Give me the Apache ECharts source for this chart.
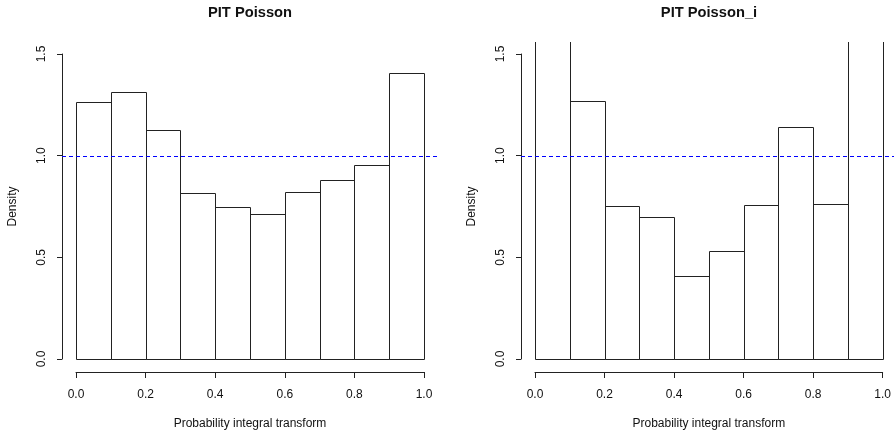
<!DOCTYPE html>
<html>
<head>
<meta charset="utf-8">
<script src="https://cdn.jsdelivr.net/npm/echarts@6/dist/echarts.min.js"></script>
<style>
html,body{margin:0;padding:0;background:#fff;}
#chart{width:894px;height:438px;}
</style>
</head>
<body>
<div id="chart"></div>
<script>
// ---- data ----
const breaks = [0, 0.1, 0.2, 0.3, 0.4, 0.5, 0.6, 0.7, 0.8, 0.9, 1.0];
const densityPoisson  = [1.265, 1.311, 1.128, 0.817, 0.747, 0.715, 0.820, 0.881, 0.954, 1.405];
const densityPoissonI = [1.85, 1.268, 0.752, 0.696, 0.410, 0.530, 0.757, 1.139, 0.762, 1.84];
const refDensity = 1.0;
const titles = ['PIT Poisson', 'PIT Poisson_i'];
const xName = 'Probability integral transform';
const yName = 'Density';
const xTickStep = 0.2;
const yTickStep = 0.5;
const yAxisMax = 1.5;
// R plot region extends 4% beyond the data range
const xPlotLimit = [-0.04, 1.04];
const yPlotLimit = [-0.06, 1.56];

const FONT = '"Liberation Sans", Arial, sans-serif';
const LINE = '#222';

function histData(vals) {
  return vals.map((v, i) => [breaks[i], breaks[i + 1], v]);
}

function crisp(v) { return Math.round(v) + 0.5; }

function renderBar(params, api) {
  const x0 = api.value(0), x1 = api.value(1), v = api.value(2);
  const pb = api.coord([x0, 0]);
  const pt = api.coord([x1, v]);
  const topLim = api.coord([x0, yPlotLimit[1]])[1];
  const L = crisp(pb[0]), R = crisp(pt[0]), B = crisp(pb[1]);
  let points;
  if (pt[1] >= topLim) {
    const T = crisp(pt[1]);
    points = [[L, B], [L, T], [R, T], [R, B], [L, B]];
  } else {
    const T = Math.round(topLim);
    points = [[L, T], [L, B], [R, B], [R, T]];
  }
  return {
    type: 'polyline',
    shape: { points: points },
    style: { stroke: LINE, fill: null, lineWidth: 1 }
  };
}

function renderRef(params, api) {
  const v = api.value(0);
  const a = api.coord([xPlotLimit[0], v]);
  const b = api.coord([xPlotLimit[1], v]);
  const y = crisp(a[1]);
  return {
    type: 'line',
    shape: { x1: Math.round(a[0]), y1: y, x2: Math.round(b[0]), y2: y },
    style: { stroke: '#0000ff', lineWidth: 1, lineDash: [4, 3] },
    z2: 10
  };
}

const grids = [
  { left: 76, top: 54, width: 348, height: 305 },
  { left: 535, top: 54, width: 348, height: 305 }
];

function xAxisFor(i) {
  return {
    type: 'value', gridIndex: i, min: 0, max: 1, interval: xTickStep,
    offset: 13,
    axisLine: { show: true, onZero: false, lineStyle: { color: LINE, width: 1 } },
    axisTick: { show: true, length: 6, lineStyle: { color: LINE, width: 1 } },
    axisLabel: { fontSize: 12, color: '#111', fontFamily: FONT, margin: 17,
      formatter: v => v.toFixed(1), showMinLabel: true, showMaxLabel: true },
    splitLine: { show: false },
    name: xName, nameLocation: 'middle', nameGap: 46,
    nameTextStyle: { fontSize: 12, color: '#111', fontFamily: FONT }
  };
}

function yAxisFor(i) {
  return {
    type: 'value', gridIndex: i, min: 0, max: yAxisMax, interval: yTickStep,
    offset: 14,
    axisLine: { show: true, onZero: false, lineStyle: { color: LINE, width: 1 } },
    axisTick: { show: true, length: 5, lineStyle: { color: LINE, width: 1 } },
    axisLabel: { fontSize: 12, color: '#111', fontFamily: FONT, margin: 14, rotate: 90,
      formatter: v => v.toFixed(1), showMinLabel: true, showMaxLabel: true },
    splitLine: { show: false },
    name: yName, nameLocation: 'middle', nameGap: 43,
    nameTextStyle: { fontSize: 12, color: '#111', fontFamily: FONT }
  };
}

const allData = [densityPoisson, densityPoissonI];
const series = [];
allData.forEach((vals, i) => {
  series.push({
    type: 'custom', xAxisIndex: i, yAxisIndex: i,
    renderItem: renderBar, data: histData(vals),
    encode: { x: [0, 1], y: 2 }, clip: false, silent: true, z: 2
  });
  series.push({
    type: 'custom', xAxisIndex: i, yAxisIndex: i,
    renderItem: renderRef, data: [[refDensity]],
    encode: { y: 0 }, clip: false, silent: true, z: 3
  });
});

const chart = echarts.init(document.getElementById('chart'), null, { renderer: 'canvas' });
chart.setOption({
  animation: false,
  backgroundColor: '#fff',
  title: titles.map((t, i) => ({
    text: t,
    left: [250, 709][i],
    top: 5,
    padding: 0,
    textAlign: 'center',
    textStyle: { fontSize: 14.7, fontWeight: 'bold', color: '#111', fontFamily: FONT }
  })),
  grid: grids,
  xAxis: [xAxisFor(0), xAxisFor(1)],
  yAxis: [yAxisFor(0), yAxisFor(1)],
  series: series
});
</script>
</body>
</html>
